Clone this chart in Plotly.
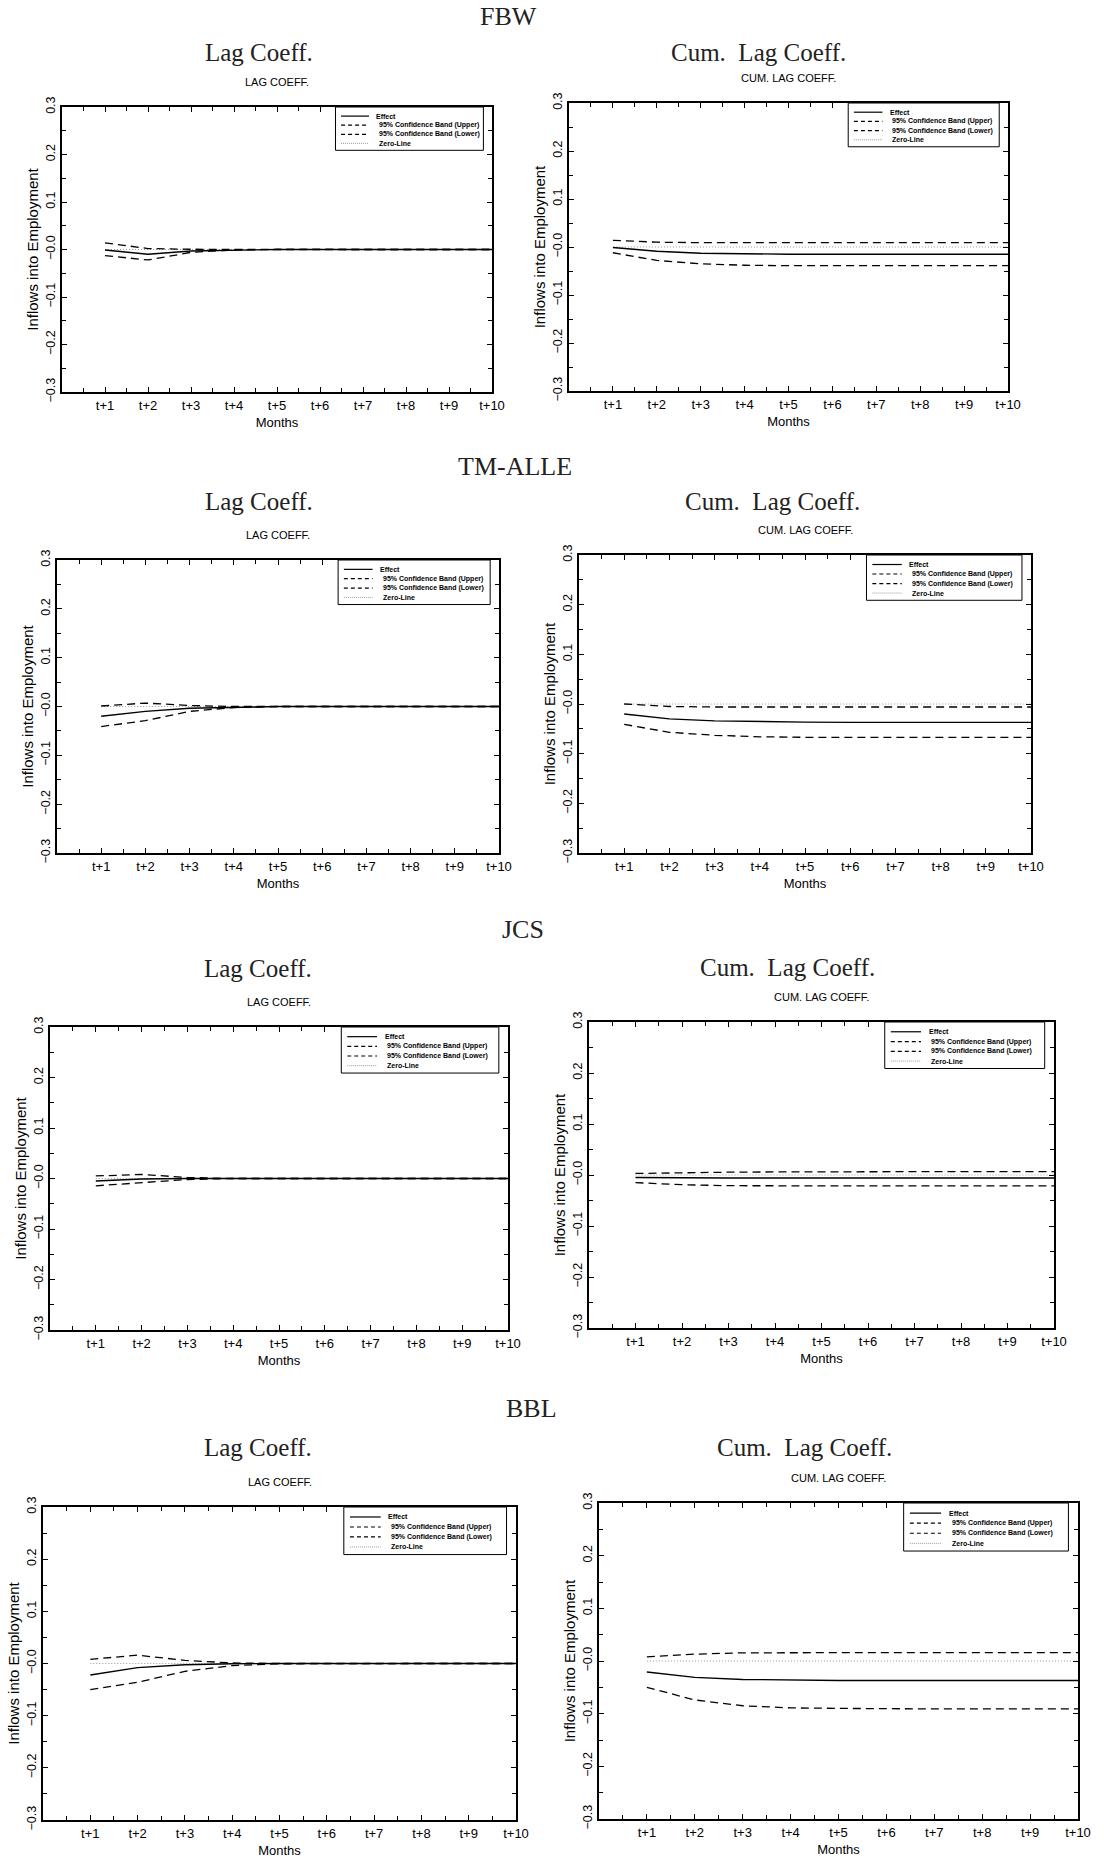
import plotly.graph_objects as go

# ---------------- data ----------------
MONTH_POS = [1, 2, 3, 4, 5, 6, 7, 8, 9, 10]
MONTH_LABELS = ["t+1", "t+2", "t+3", "t+4", "t+5", "t+6", "t+7", "t+8", "t+9", "t+10"]
Y_TICKS = [-0.3, -0.2, -0.1, 0.0, 0.1, 0.2, 0.3]
Y_TICK_LABELS = ["\u22120.3", "\u22120.2", "\u22120.1", "\u22120.0", "0.1", "0.2", "0.3"]

GROUPS = ["FBW", "TM-ALLE", "JCS", "BBL"]
SERIES_NAMES = ["Effect", "95% Confidence Band (Upper)", "95% Confidence Band (Lower)", "Zero-Line"]

ZERO_LINE = [0.0, 0.0, 0.0, 0.0, 0.0, 0.0, 0.0, 0.0, 0.0, 0.0]

FBW_LAG_EFFECT = [-0.001, -0.010, -0.003, -0.001, 0.0, 0.0, 0.0, 0.0, 0.0, 0.0]
FBW_LAG_UPPER = [0.014, 0.002, 0.0005, 0.0, 0.0, 0.0, 0.0, 0.0, 0.0, 0.0]
FBW_LAG_LOWER = [-0.013, -0.022, -0.006, -0.001, 0.0, 0.0, 0.0, 0.0, 0.0, 0.0]

FBW_CUM_EFFECT = [-0.001, -0.009, -0.013, -0.0145, -0.015, -0.015, -0.015, -0.015, -0.015, -0.015]
FBW_CUM_UPPER = [0.014, 0.010, 0.009, 0.009, 0.009, 0.009, 0.009, 0.009, 0.009, 0.009]
FBW_CUM_LOWER = [-0.012, -0.028, -0.035, -0.038, -0.039, -0.039, -0.039, -0.039, -0.039, -0.039]

TMA_LAG_EFFECT = [-0.020, -0.010, -0.0035, -0.001, 0.0, 0.0, 0.0, 0.0, 0.0, 0.0]
TMA_LAG_UPPER = [0.001, 0.007, 0.002, 0.0, 0.0, 0.0, 0.0, 0.0, 0.0, 0.0]
TMA_LAG_LOWER = [-0.041, -0.029, -0.010, -0.002, 0.0, 0.0, 0.0, 0.0, 0.0, 0.0]

TMA_CUM_EFFECT = [-0.020, -0.030, -0.034, -0.036, -0.0365, -0.037, -0.037, -0.037, -0.037, -0.037]
TMA_CUM_UPPER = [0.000, -0.005, -0.006, -0.006, -0.006, -0.006, -0.006, -0.006, -0.006, -0.006]
TMA_CUM_LOWER = [-0.041, -0.057, -0.063, -0.066, -0.067, -0.067, -0.067, -0.067, -0.067, -0.067]

JCS_LAG_EFFECT = [-0.005, -0.001, 0.0, 0.0, 0.0, 0.0, 0.0, 0.0, 0.0, 0.0]
JCS_LAG_UPPER = [0.005, 0.008, 0.002, 0.0, 0.0, 0.0, 0.0, 0.0, 0.0, 0.0]
JCS_LAG_LOWER = [-0.0145, -0.008, -0.002, 0.0, 0.0, 0.0, 0.0, 0.0, 0.0, 0.0]

JCS_CUM_EFFECT = [-0.005, -0.006, -0.006, -0.006, -0.006, -0.006, -0.006, -0.006, -0.006, -0.006]
JCS_CUM_UPPER = [0.003, 0.0045, 0.0055, 0.006, 0.0065, 0.0065, 0.0065, 0.0065, 0.0065, 0.0065]
JCS_CUM_LOWER = [-0.015, -0.019, -0.021, -0.0215, -0.0215, -0.0215, -0.0215, -0.0215, -0.0215, -0.0215]

BBL_LAG_EFFECT = [-0.022, -0.008, -0.0025, -0.0005, 0.0, 0.0, 0.0, 0.0, 0.0, 0.0]
BBL_LAG_UPPER = [0.008, 0.016, 0.006, 0.001, 0.0, 0.0, 0.0, 0.0, 0.0, 0.0]
BBL_LAG_LOWER = [-0.050, -0.036, -0.015, -0.004, -0.0005, 0.0, 0.0, 0.0, 0.0, 0.0]

BBL_CUM_EFFECT = [-0.021, -0.031, -0.035, -0.0363, -0.037, -0.037, -0.037, -0.037, -0.037, -0.037]
BBL_CUM_UPPER = [0.008, 0.013, 0.0155, 0.016, 0.016, 0.016, 0.016, 0.016, 0.016, 0.016]
BBL_CUM_LOWER = [-0.050, -0.074, -0.085, -0.089, -0.090, -0.091, -0.091, -0.091, -0.091, -0.091]

PANEL_SERIES = [
    (FBW_LAG_EFFECT, FBW_LAG_UPPER, FBW_LAG_LOWER),
    (FBW_CUM_EFFECT, FBW_CUM_UPPER, FBW_CUM_LOWER),
    (TMA_LAG_EFFECT, TMA_LAG_UPPER, TMA_LAG_LOWER),
    (TMA_CUM_EFFECT, TMA_CUM_UPPER, TMA_CUM_LOWER),
    (JCS_LAG_EFFECT, JCS_LAG_UPPER, JCS_LAG_LOWER),
    (JCS_CUM_EFFECT, JCS_CUM_UPPER, JCS_CUM_LOWER),
    (BBL_LAG_EFFECT, BBL_LAG_UPPER, BBL_LAG_LOWER),
    (BBL_CUM_EFFECT, BBL_CUM_UPPER, BBL_CUM_LOWER),
]
PANEL_KIND = ["lag", "cum", "lag", "cum", "lag", "cum", "lag", "cum"]

# ---------------- layout (pixels) ----------------
W, H = 1104, 1863
# plot frames: left, right, top, bottom
FRAMES = [
    (62, 492, 107, 392), (569, 1008, 103, 391),
    (57, 499, 560, 853), (579, 1031, 555, 853),
    (50, 508, 1027, 1330), (589, 1054, 1022, 1328),
    (43, 516, 1507, 1820), (599, 1078, 1503, 1819),
]
BIG_TITLE_POS = [(259, 52), (758, 52), (259, 502), (772, 502),
                 (258, 968), (787, 967), (258, 1447), (804, 1447)]
GROUP_TITLE_POS = [(508, 16), (515, 466), (523, 929), (531, 1408)]

SERIF = "Liberation Serif, Times New Roman, serif"
SANS = "Liberation Sans, Arial, sans-serif"

fig = go.Figure()
annotations = []
shapes = []

for i, ((eff, up, lo), kind, fr) in enumerate(zip(PANEL_SERIES, PANEL_KIND, FRAMES)):
    n = i + 1
    xa = "x" if n == 1 else f"x{n}"
    ya = "y" if n == 1 else f"y{n}"
    left, right, top, bottom = fr
    hpx = bottom - top

    fig.add_trace(go.Scatter(x=MONTH_POS, y=ZERO_LINE, xaxis=xa, yaxis=ya, mode="lines",
                             name=SERIES_NAMES[3], showlegend=False,
                             line=dict(color="#9a9a9a", width=1, dash="1px,2px")))
    fig.add_trace(go.Scatter(x=MONTH_POS, y=up, xaxis=xa, yaxis=ya, mode="lines",
                             name=SERIES_NAMES[1], showlegend=False,
                             line=dict(color="black", width=1.3, dash="8px,5px")))
    fig.add_trace(go.Scatter(x=MONTH_POS, y=lo, xaxis=xa, yaxis=ya, mode="lines",
                             name=SERIES_NAMES[2], showlegend=False,
                             line=dict(color="black", width=1.3, dash="8px,5px")))
    fig.add_trace(go.Scatter(x=MONTH_POS, y=eff, xaxis=xa, yaxis=ya, mode="lines",
                             name=SERIES_NAMES[0], showlegend=False,
                             line=dict(color="black", width=1.4)))

    xkey = "xaxis" if n == 1 else f"xaxis{n}"
    ykey = "yaxis" if n == 1 else f"yaxis{n}"
    fig.update_layout(**{
        xkey: dict(
            domain=[left / W, right / W], anchor=ya, range=[0, 10],
            tickmode="array", tickvals=MONTH_POS, ticktext=MONTH_LABELS,
            ticks="inside", ticklen=5, tickwidth=1, tickcolor="black",
            minor=dict(ticks="inside", ticklen=4, tickwidth=1, tickcolor="black", dtick=0.5, tick0=0),
            showline=True, linecolor="black", linewidth=2, mirror="allticks",
            showgrid=False, zeroline=False,
            tickfont=dict(family=SANS, size=13, color="black"),
            title=dict(text="Months", font=dict(family=SANS, size=13, color="black"), standoff=6),
        ),
        ykey: dict(
            domain=[1 - bottom / H, 1 - top / H], anchor=xa, range=[-0.3, 0.3],
            tickmode="array", tickvals=Y_TICKS, ticktext=Y_TICK_LABELS, tickangle=-90,
            ticks="inside", ticklen=5, tickwidth=1, tickcolor="black",
            minor=dict(ticks="inside", ticklen=4, tickwidth=1, tickcolor="black", dtick=0.05, tick0=0),
            showline=True, linecolor="black", linewidth=2, mirror="allticks",
            showgrid=False, zeroline=False,
            tickfont=dict(family=SANS, size=12.5, color="black"),
            title=dict(text="Inflows into Employment", font=dict(family=SANS, size=15, color="black"), standoff=2),
        ),
    })

    # panel titles
    bx, by = BIG_TITLE_POS[i]
    annotations.append(dict(text="Lag Coeff." if kind == "lag" else "Cum.  Lag Coeff.",
                            x=bx / W, y=1 - by / H, xref="paper", yref="paper",
                            xanchor="center", yanchor="middle", showarrow=False,
                            font=dict(family=SERIF, size=25, color="#222")))
    annotations.append(dict(text="LAG COEFF." if kind == "lag" else "CUM. LAG COEFF.",
                            x=0.5, y=1 + 25 / hpx, xref=f"{xa} domain", yref=f"{ya} domain",
                            xanchor="center", yanchor="middle", showarrow=False,
                            font=dict(family=SANS, size=11, color="black")))

    # legend box
    lx0, lx1, ly0 = 0.636, 0.98, 0.848
    shapes.append(dict(type="rect", xref=f"{xa} domain", yref=f"{ya} domain",
                       x0=lx0, x1=lx1, y0=ly0, y1=1.0,
                       line=dict(color="black", width=1), fillcolor="white", layer="above"))
    styles = [dict(color="black", width=1.2),
              dict(color="black", width=1.2, dash="4px,3px"),
              dict(color="black", width=1.2, dash="4px,3px"),
              dict(color="#9a9a9a", width=1, dash="1px,1px")]
    text_x = [0.726, 0.732, 0.732, 0.732]
    for k, (nm, st) in enumerate(zip(SERIES_NAMES, styles)):
        yy = 1.0 - (1.0 - ly0) * (0.21 * (k + 1))
        shapes.append(dict(type="line", xref=f"{xa} domain", yref=f"{ya} domain",
                           x0=0.649, x1=0.714, y0=yy, y1=yy, line=st, layer="above"))
        annotations.append(dict(text=f"<b>{nm}</b>", x=text_x[k], y=yy,
                                xref=f"{xa} domain", yref=f"{ya} domain",
                                xanchor="left", yanchor="middle", showarrow=False,
                                font=dict(family=SANS, size=7, color="black")))

for g, (gx, gy) in zip(GROUPS, GROUP_TITLE_POS):
    annotations.append(dict(text=g, x=gx / W, y=1 - gy / H, xref="paper", yref="paper",
                            xanchor="center", yanchor="middle", showarrow=False,
                            font=dict(family=SERIF, size=26, color="#222")))

fig.update_layout(
    width=W, height=H,
    margin=dict(l=0, r=0, t=0, b=0, autoexpand=False),
    paper_bgcolor="white", plot_bgcolor="white",
    showlegend=False,
    annotations=annotations, shapes=shapes,
)

fig.write_html("out.html")
